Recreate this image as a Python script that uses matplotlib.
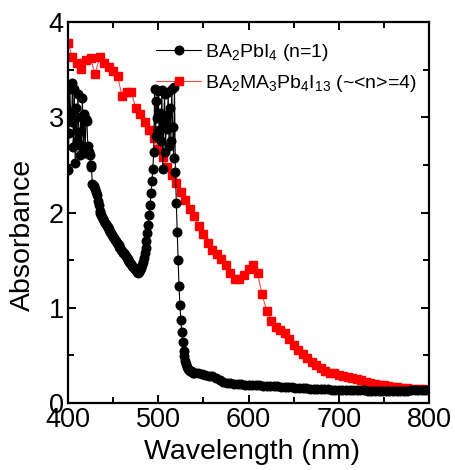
import numpy as np
import matplotlib
matplotlib.use("Agg")
import matplotlib.pyplot as plt
from matplotlib.ticker import MultipleLocator

plt.rcParams['font.family'] = ['Liberation Sans', 'DejaVu Sans']
plt.rcParams['mathtext.fontset'] = 'custom'
plt.rcParams['mathtext.rm'] = 'Liberation Sans'
plt.rcParams['mathtext.it'] = 'Liberation Sans:italic'

# ---- data: BA2PbI4 (n=1), 1 nm steps 400-540, then 4 nm steps
n1_wl_fine = list(range(400, 541, 1))
n1_abs_fine = [
    2.45, 2.83, 3.30, 3.06, 2.95, 3.36, 2.69, 3.30, 2.52, 3.10,
    2.75, 3.25, 2.85, 2.60, 3.00, 2.70, 3.20, 2.69, 3.04, 2.62,
    2.98, 2.96, 2.70, 2.64, 2.60, 2.50, 2.48, 2.30, 2.29, 2.28,
    2.25, 2.22, 2.18, 2.12, 2.08, 2.02, 1.99, 1.97, 1.95, 1.93,
    1.91, 1.89, 1.88, 1.86, 1.85, 1.83, 1.82, 1.80, 1.78, 1.76,
    1.74, 1.73, 1.71, 1.70, 1.68, 1.67, 1.66, 1.64, 1.63, 1.61,
    1.60, 1.58, 1.57, 1.55, 1.54, 1.52, 1.51, 1.50, 1.48, 1.47,
    1.46, 1.44, 1.43, 1.42, 1.41, 1.40, 1.39, 1.38, 1.37, 1.38,
    1.40, 1.42, 1.45, 1.48, 1.52, 1.57, 1.63, 1.70, 1.78, 1.87,
    1.97, 2.08, 2.20, 2.33, 2.46, 2.64, 3.30, 2.80, 3.17, 2.99,
    3.28, 2.87, 3.05, 2.75, 3.29, 2.46, 2.95, 3.25, 2.64, 3.02,
    2.88, 3.27, 2.70, 3.10, 2.75, 3.30, 2.90, 2.57, 3.32, 2.43,
    2.10, 1.80, 1.50, 1.23, 1.03, 0.87, 0.75, 0.64, 0.55, 0.49,
    0.44, 0.41, 0.38, 0.36, 0.35, 0.34, 0.335, 0.33, 0.325, 0.32,
    0.315,
]
n1_wl_tail = list(range(544, 801, 4))
n1_abs_tail = [
    0.31, 0.30, 0.29, 0.285, 0.28, 0.26, 0.24, 0.22, 0.21, 0.205,
    0.20, 0.20, 0.195, 0.19, 0.19, 0.188, 0.186, 0.184, 0.182, 0.18,
    0.178, 0.176, 0.174, 0.172, 0.17, 0.168, 0.165, 0.162, 0.16, 0.157,
    0.155, 0.152, 0.15, 0.148, 0.146, 0.144, 0.142, 0.14, 0.139, 0.138,
    0.137, 0.136, 0.135, 0.134, 0.133, 0.132, 0.132, 0.131, 0.131, 0.13,
    0.13, 0.13, 0.13, 0.13, 0.13, 0.13, 0.13, 0.131, 0.131, 0.132,
    0.132, 0.133, 0.134, 0.135, 0.135,
]
n1_wl = n1_wl_fine + n1_wl_tail
n1_abs = n1_abs_fine + n1_abs_tail

# ---- data: BA2MA3Pb4I13 (~<n>=4), 5 nm steps
n4_wl = list(range(400, 801, 5))
n4_abs = [
    3.78, 3.63, 3.57, 3.51, 3.60, 3.62, 3.45, 3.63, 3.57, 3.53,
    3.49, 3.43, 3.22, 3.27, 3.27, 3.10, 3.03, 2.95, 2.87, 2.78,
    2.67, 2.58, 2.48, 2.39, 2.31, 2.22, 2.13, 2.04, 1.96, 1.86,
    1.77, 1.68, 1.61, 1.56, 1.51, 1.45, 1.37, 1.30, 1.30, 1.34,
    1.41, 1.45, 1.36, 1.14, 0.97, 0.86, 0.80, 0.77, 0.73, 0.67,
    0.61, 0.56, 0.51, 0.47, 0.43, 0.40, 0.37, 0.34, 0.32, 0.31,
    0.29, 0.28, 0.27, 0.26, 0.25, 0.24, 0.22, 0.21, 0.20, 0.19,
    0.19, 0.18, 0.17, 0.17, 0.16, 0.16, 0.15, 0.15, 0.15, 0.15,
    0.14,
]

labels = [r'$\mathregular{BA_2PbI_4}$ (n=1)',
          r'$\mathregular{BA_2MA_3Pb_4I_{13}}$ (~<n>=4)']

fig = plt.figure(figsize=(4.56, 4.70), dpi=100)
ax = fig.add_axes([0.149, 0.1426, 0.792, 0.8104])

ax.plot(n1_wl, n1_abs, color='black', lw=0.8, marker='o', ms=6.2,
        mfc='black', mec='black', label=labels[0], zorder=3)
ax.plot(n4_wl, n4_abs, color='#ff4a4a', lw=0.8, marker='s', ms=5.3,
        mfc='red', mec='red', label=labels[1], zorder=2)

ax.set_xlim(400, 800)
ax.set_ylim(0, 4)
ax.xaxis.set_major_locator(MultipleLocator(100))
ax.xaxis.set_minor_locator(MultipleLocator(50))
ax.yaxis.set_major_locator(MultipleLocator(1))
ax.yaxis.set_minor_locator(MultipleLocator(0.5))

for s in ax.spines.values():
    s.set_linewidth(1.6)
ax.tick_params(which='both', direction='in', top=True, right=True, width=1.4)
ax.tick_params(which='major', length=6, labelsize=19.5, pad=3)
ax.tick_params(which='minor', length=4)

ax.set_xlabel('Wavelength (nm)', fontsize=20.5)
ax.set_ylabel('Absorbance', fontsize=20.5)
ax.xaxis.set_label_coords(0.51, -0.095)
ax.yaxis.set_label_coords(-0.088, 0.44)

leg = ax.legend(loc='upper left', bbox_to_anchor=(0.245, 0.947), frameon=False,
                fontsize=14, handlelength=2.3, handletextpad=0.2,
                borderpad=0, borderaxespad=0, labelspacing=0.5)

fig.savefig('out.png', dpi=100)
